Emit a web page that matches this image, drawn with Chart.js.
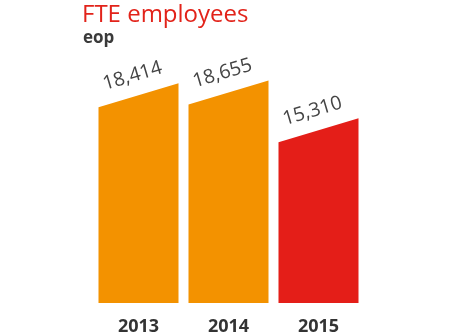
<!DOCTYPE html>
<html><head><meta charset="utf-8">
<script src="https://cdn.jsdelivr.net/npm/chart.js@4"></script>
<style>
html,body{margin:0;padding:0;background:#fff;}
#wrap{position:relative;width:452px;height:332px;}
#t1{position:absolute;left:82px;top:-4px;font:24px "Open Sans",sans-serif;color:#e2231a;white-space:nowrap;}
#t2{position:absolute;left:83px;top:25px;font:bold 17px "Open Sans",sans-serif;color:#3a3a3a;}
canvas{position:absolute;left:0;top:0;}
</style></head>
<body><div id="wrap"><canvas id="c" width="452" height="332"></canvas>
<div id="t1">FTE employees</div><div id="t2">eop</div></div>
<script>
const categories = ["2013", "2014", "2015"];
const values = [18414, 18655, 15310];
const valueLabels = ["18,414", "18,655", "15,310"];
const barColors = ["#f39200", "#f39200", "#e41e18"];

const slantPlugin = {
  id: 'slant',
  afterDatasetsDraw(chart) {
    const ctx = chart.ctx;
    const meta = chart.getDatasetMeta(0);
    meta.data.forEach((bar, i) => {
      const p = bar.getProps(['x', 'y', 'base', 'width'], true);
      const l = p.x - p.width / 2, r = p.x + p.width / 2;
      const half = 12;
      ctx.save();
      ctx.fillStyle = barColors[i];
      ctx.beginPath();
      ctx.moveTo(l, p.base);
      ctx.lineTo(l, p.y + half);
      ctx.lineTo(r, p.y - half);
      ctx.lineTo(r, p.base);
      ctx.closePath();
      ctx.fill();
      ctx.translate(p.x - 6, p.y - 19);
      ctx.rotate(-16.5 * Math.PI / 180);
      ctx.fillStyle = '#444';
      ctx.font = '19.5px "Open Sans", sans-serif';
      ctx.textAlign = 'center';
      ctx.textBaseline = 'middle';
      ctx.fillText(valueLabels[i], 0, 0);
      ctx.restore();
    });
  }
};

new Chart(document.getElementById('c'), {
  type: 'bar',
  data: {
    labels: categories,
    datasets: [{ data: values, backgroundColor: 'rgba(0,0,0,0)', barPercentage: 0.889, categoryPercentage: 1 }]
  },
  options: {
    responsive: false,
    animation: false,
    layout: { padding: { left: 93.5, right: 88.5, top: 62, bottom: -19 } },
    plugins: { legend: { display: false }, tooltip: { enabled: false } },
    scales: {
      x: {
        grid: { display: false, drawTicks: false },
        border: { display: false },
        ticks: { color: '#333', padding: 15, font: { family: '"Open Sans", sans-serif', size: 18, weight: 'bold', lineHeight: 1 } }
      },
      y: { display: false, min: 0, max: 21350 }
    }
  },
  plugins: [slantPlugin]
});
</script></body></html>
